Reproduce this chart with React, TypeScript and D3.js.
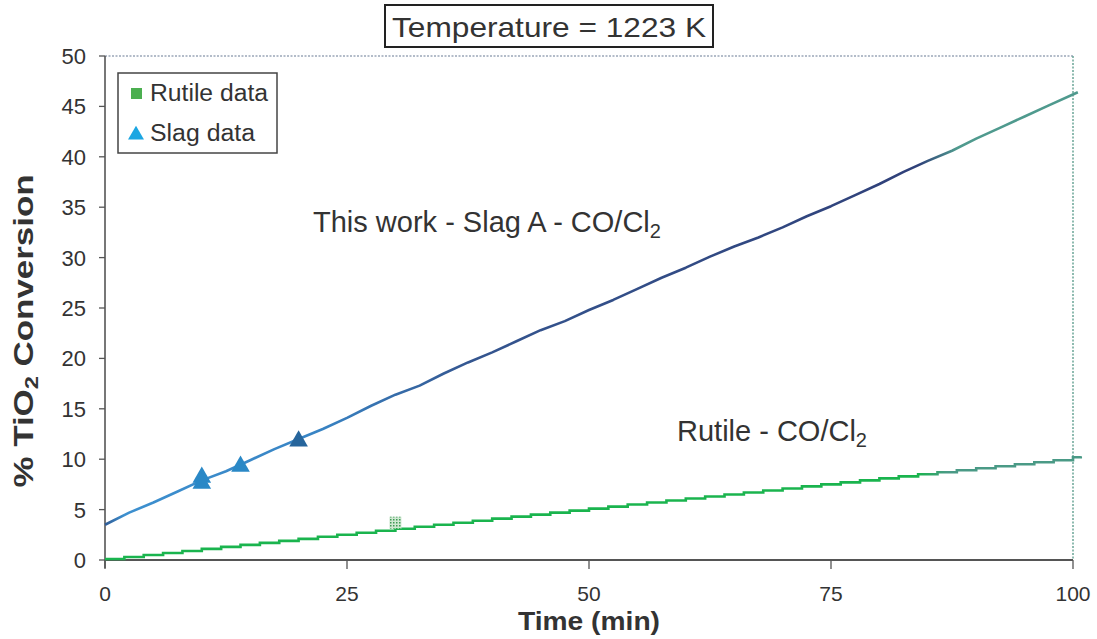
import React from "react";
import * as d3 from "d3";

// slag A conversion curve (this work), read every 2.5 min
const slagTime = [0, 2.5, 5, 7.5, 10, 12.5, 15, 17.5, 20, 22.5, 25, 27.5, 30, 32.5, 35, 37.5, 40, 42.5, 45, 47.5, 50,
  52.5, 55, 57.5, 60, 62.5, 65, 67.5, 70, 72.5, 75, 77.5, 80, 82.5, 85, 87.5, 90, 92.5, 95, 97.5, 100.5];
const slagValue = [3.5, 4.7, 5.7, 6.8, 7.9, 8.8, 9.9, 11.0, 12.0, 13.0, 14.1, 15.3, 16.4, 17.3, 18.5, 19.6, 20.6, 21.7, 22.8, 23.7, 24.8,
  25.8, 26.9, 28.0, 29.0, 30.1, 31.1, 32.0, 33.0, 34.1, 35.1, 36.2, 37.3, 38.5, 39.6, 40.6, 41.8, 42.9, 44.0, 45.1, 46.4];

// rutile curve, stepped every ~2 min
const rutileTime = [0, 2, 4, 6, 8, 10, 12, 14, 16, 18, 20, 22, 24, 26, 28, 30, 32, 34, 36, 38, 40, 42, 44, 46, 48, 50,
  52, 54, 56, 58, 60, 62, 64, 66, 68, 70, 72, 74, 76, 78, 80, 82, 84, 86, 88, 90, 92, 94, 96, 98, 100, 100.8];
const rutileValue = [0.1, 0.3, 0.5, 0.7, 0.9, 1.1, 1.3, 1.5, 1.7, 1.9, 2.1, 2.3, 2.5, 2.7, 2.9, 3.1, 3.3, 3.5, 3.7, 3.9, 4.1, 4.3, 4.5, 4.7, 4.9, 5.1,
  5.3, 5.5, 5.7, 5.9, 6.1, 6.3, 6.5, 6.7, 6.9, 7.1, 7.3, 7.5, 7.7, 7.9, 8.1, 8.3, 8.5, 8.7, 8.9, 9.1, 9.3, 9.5, 9.7, 9.9, 10.2, 10.3];

// measured points
const slagDataTime = [10, 10, 14, 20];
const slagDataValue = [8.2, 7.6, 9.3, 11.8];
const rutileDataTime = [30];
const rutileDataValue = [3.7];

const xTicks = [0, 25, 50, 75, 100];
const yTicks = [0, 5, 10, 15, 20, 25, 30, 35, 40, 45, 50];

const W = 1097;
const H = 639;
const FONT = "'Liberation Sans', Arial, sans-serif";
const INK = "#333";

export default function App() {
  const x = d3.scaleLinear().domain([0, 100]).range([105, 1073]);
  const y = d3.scaleLinear().domain([0, 50]).range([560, 56]);

  const slag = slagTime.map((t, i) => [t, slagValue[i]] as [number, number]);
  const rutile = rutileTime.map((t, i) => [t, rutileValue[i]] as [number, number]);

  const smooth = d3.line<[number, number]>().x(d => x(d[0])).y(d => y(d[1])).curve(d3.curveLinear);
  const stepped = d3.line<[number, number]>().x(d => x(d[0])).y(d => y(d[1])).curve(d3.curveStepAfter);

  const tri = d3.symbol().type(d3.symbolTriangle).size(150)();
  const legendTri = d3.symbol().type(d3.symbolTriangle).size(110)();

  return (
    <svg width={W} height={H} style={{ position: "absolute", left: 0, top: 0, background: "#fff" }} fontFamily={FONT}>
      <defs>
        <linearGradient id="slagGrad" gradientUnits="userSpaceOnUse" x1={x(0)} x2={x(100)} y1={0} y2={0}>
          <stop offset="0%" stopColor="#2f5a94" />
          <stop offset="2%" stopColor="#3d90cf" />
          <stop offset="22%" stopColor="#3884c4" />
          <stop offset="38%" stopColor="#34558f" />
          <stop offset="84%" stopColor="#2f4079" />
          <stop offset="88%" stopColor="#4f9a8e" />
          <stop offset="100%" stopColor="#4f9a8e" />
        </linearGradient>
        <linearGradient id="rutileGrad" gradientUnits="userSpaceOnUse" x1={x(0)} x2={x(100)} y1={0} y2={0}>
          <stop offset="0%" stopColor="#1ab44e" />
          <stop offset="84%" stopColor="#1ab44e" />
          <stop offset="87%" stopColor="#4a9a86" />
          <stop offset="100%" stopColor="#4a9a86" />
        </linearGradient>
        <pattern id="hatch" width="3" height="3" patternUnits="userSpaceOnUse">
          <rect width="3" height="3" fill="#cfe8d2" />
          <rect width="1.5" height="1.5" fill="#3f9a55" />
        </pattern>
      </defs>

      {/* title box */}
      <rect x={385} y={5} width={328} height={42} fill="#fff" stroke="#222" strokeWidth={2} />
      <text x={549} y={37} textAnchor="middle" fontSize={28} fill={INK} textLength={314} lengthAdjust="spacingAndGlyphs">
        Temperature = 1223 K
      </text>

      {/* frame: dotted top and right */}
      <line x1={x(0)} x2={x(100)} y1={y(50)} y2={y(50)} stroke="#9aa6b8" strokeWidth={1.5} strokeDasharray="2,1.5" />
      <line x1={x(100)} x2={x(100)} y1={y(50)} y2={y(0)} stroke="#6aa596" strokeWidth={1.5} strokeDasharray="2,1.5" />

      {/* y axis */}
      <line x1={x(0)} x2={x(0)} y1={y(50)} y2={y(0) + 8} stroke="#555" strokeWidth={1.6} />
      {yTicks.map(t => (
        <g key={"y" + t}>
          <line x1={x(0) - 6} x2={x(0)} y1={y(t)} y2={y(t)} stroke="#555" strokeWidth={1.3} />
          <text x={86} y={y(t) + 8} textAnchor="end" fontSize={22} fill={INK}>{t}</text>
        </g>
      ))}

      {/* x axis */}
      <line x1={x(0)} x2={x(100)} y1={y(0)} y2={y(0)} stroke="#555" strokeWidth={1.8} />
      {xTicks.map(t => (
        <g key={"x" + t}>
          <line x1={x(t)} x2={x(t)} y1={y(0)} y2={y(0) + 9} stroke="#555" strokeWidth={1.3} />
          <text x={x(t)} y={601} textAnchor="middle" fontSize={21} fill={INK}>{t}</text>
        </g>
      ))}

      {/* axis titles */}
      <text x={589} y={630} textAnchor="middle" fontSize={26} fontWeight="bold" fill={INK} textLength={142} lengthAdjust="spacingAndGlyphs">
        Time (min)
      </text>
      <text transform="translate(33,331) rotate(-90)" textAnchor="middle" fontSize={28} fontWeight="bold" fill={INK}
        textLength={313} lengthAdjust="spacingAndGlyphs">
        % TiO<tspan fontSize={19} dy={5}>2</tspan><tspan dy={-5}> Conversion</tspan>
      </text>

      {/* curves */}
      <path d={stepped(rutile) ?? ""} fill="none" stroke="url(#rutileGrad)" strokeWidth={2.6} />
      <path d={smooth(slag) ?? ""} fill="none" stroke="url(#slagGrad)" strokeWidth={2.6} strokeLinejoin="round" />

      {/* data markers */}
      {rutileDataTime.map((t, i) => (
        <rect key={"r" + i} x={x(t) - 6} y={y(rutileDataValue[i]) - 6} width={12} height={12} fill="url(#hatch)" />
      ))}
      {slagDataTime.map((t, i) => (
        <path key={"s" + i} d={tri ?? ""} transform={`translate(${x(t)},${y(slagDataValue[i])})`}
          fill={i === 3 ? "#26659c" : "#2a88c6"} />
      ))}

      {/* annotations */}
      <text x={313} y={232} fontSize={29} fill={INK}>
        This work - Slag A - CO/Cl<tspan fontSize={20} dy={6}>2</tspan>
      </text>
      <text x={677} y={441} fontSize={29} fill={INK}>
        Rutile - CO/Cl<tspan fontSize={20} dy={6}>2</tspan>
      </text>

      {/* legend */}
      <rect x={118} y={73} width={159} height={80} fill="#fff" stroke="#444" strokeWidth={1.5} />
      <rect x={131} y={88} width={11} height={11} fill="#4caf50" />
      <text x={150} y={101} fontSize={23} fill={INK} textLength={118} lengthAdjust="spacingAndGlyphs">Rutile data</text>
      <path d={legendTri ?? ""} transform="translate(136,135)" fill="#1ca6e2" />
      <text x={150} y={141} fontSize={23} fill={INK} textLength={105} lengthAdjust="spacingAndGlyphs">Slag data</text>
    </svg>
  );
}
